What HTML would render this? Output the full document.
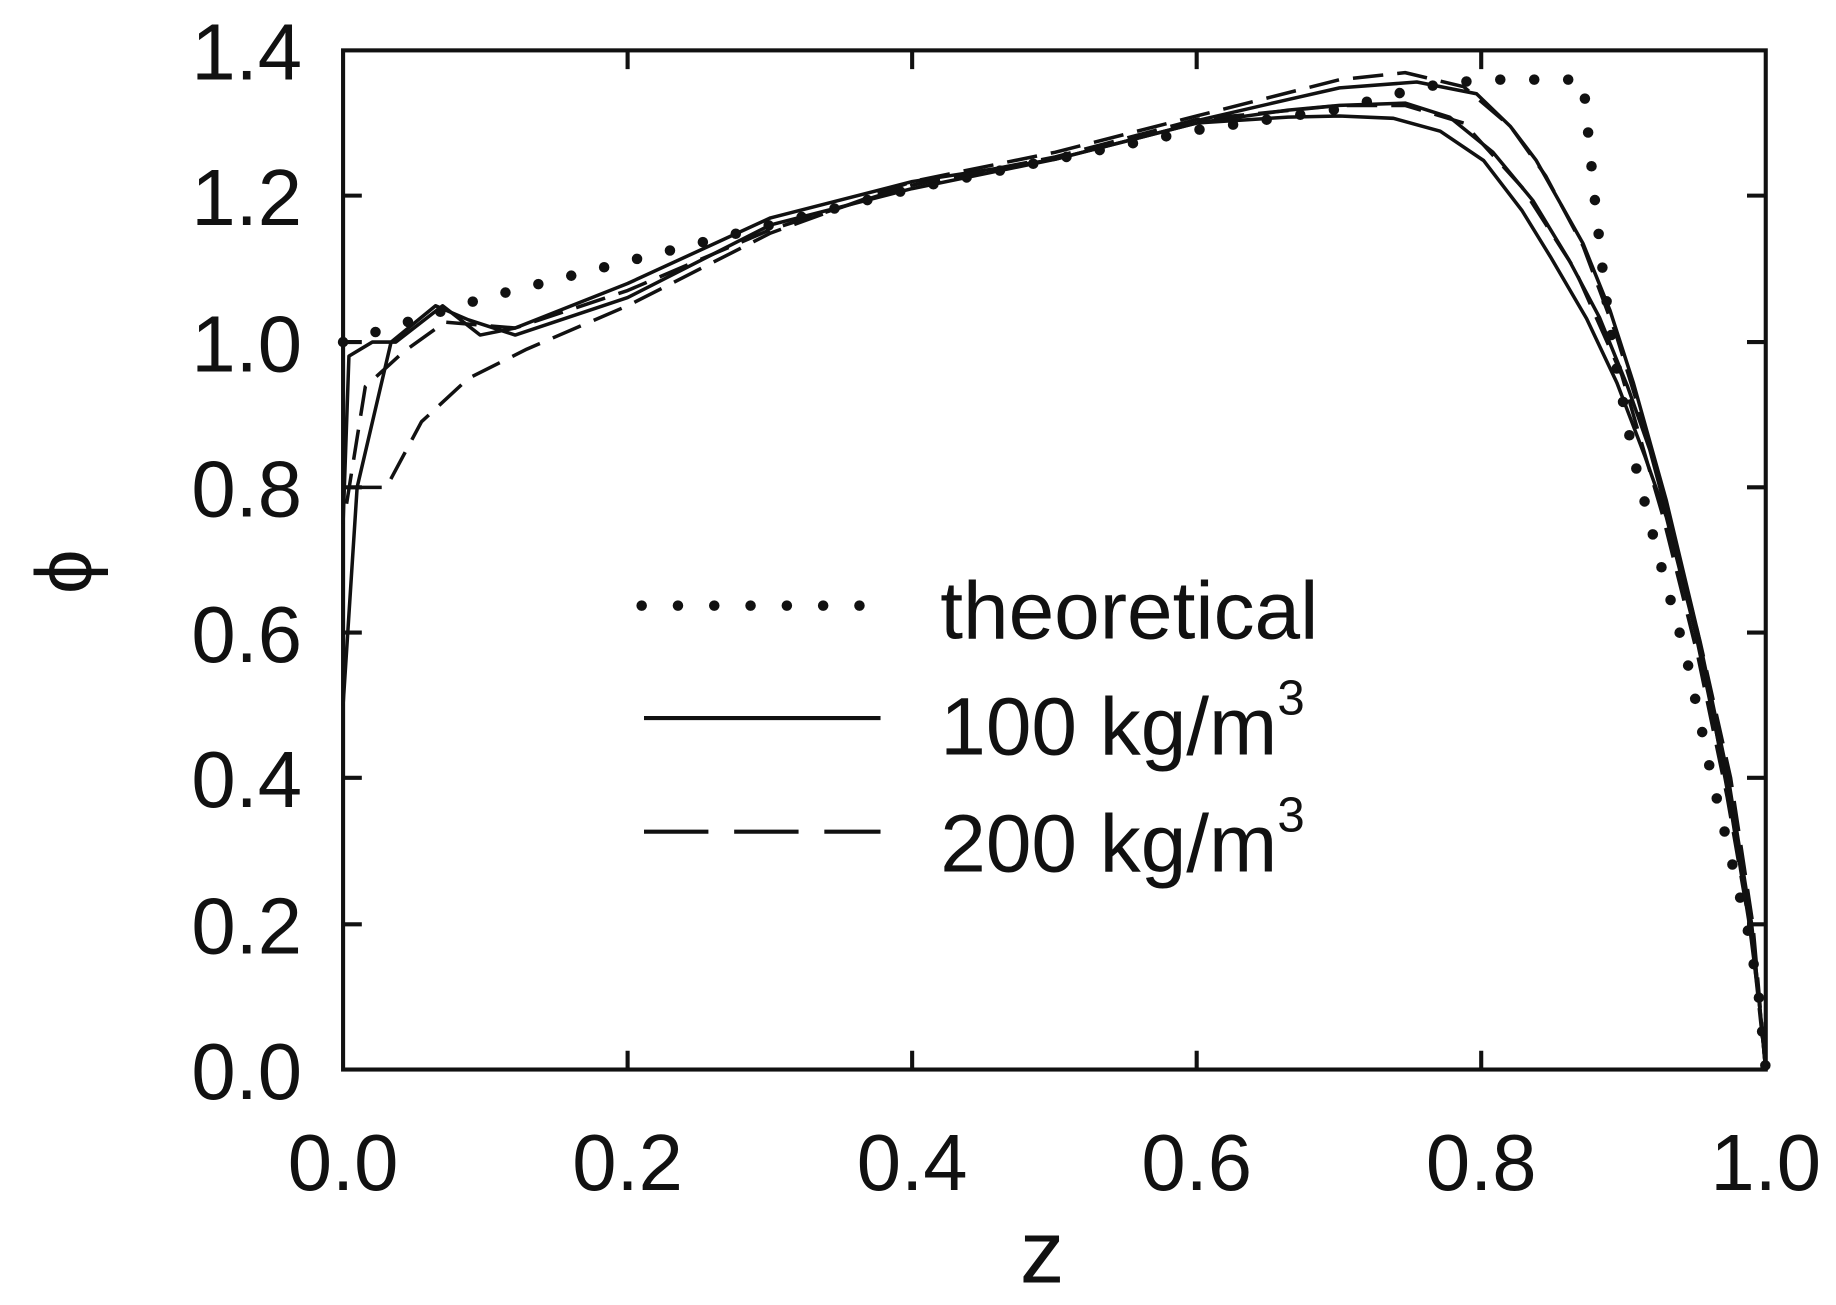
<!DOCTYPE html>
<html><head><style>html,body{margin:0;padding:0;background:#fff;}svg{display:block;}</style></head>
<body>
<svg width="1836" height="1305" viewBox="0 0 1568 1114" preserveAspectRatio="none" xmlns="http://www.w3.org/2000/svg">
<rect width="1568" height="1114" fill="#fff"/>
<g font-family="Liberation Sans, Arial, sans-serif" fill="#111">
<g font-size="68" text-anchor="end">
<text x="258" y="938">0.0</text><text x="258" y="814">0.2</text><text x="258" y="689">0.4</text>
<text x="258" y="565">0.6</text><text x="258" y="441">0.8</text><text x="258" y="317">1.0</text>
<text x="258" y="192">1.2</text><text x="258" y="68">1.4</text>
</g>
<g font-size="68" text-anchor="middle">
<text x="293" y="1016">0.0</text><text x="536" y="1016">0.2</text><text x="779" y="1016">0.4</text>
<text x="1022" y="1016">0.6</text><text x="1265" y="1016">0.8</text><text x="1508" y="1016">1.0</text>
<text x="890" y="1095" font-size="76">z</text>
</g>
<text x="0" y="0" font-size="68" text-anchor="middle" transform="translate(78,488) rotate(-90)">ϕ</text>
<g font-size="70">
<text x="803" y="545">theoretical</text>
<text x="803" y="644">100 kg/m<tspan font-size="42" dy="-34">3</tspan></text>
<text x="803" y="744">200 kg/m<tspan font-size="42" dy="-34">3</tspan></text>
</g>
</g>
<g stroke="#111" stroke-width="3.5" fill="none">
<rect x="293" y="43" width="1215" height="870"/>
<path d="M536 913v-16M779 913v-16M1022 913v-16M1265 913v-16M536 43v16M779 43v16M1022 43v16M1265 43v16
M293 789h16M293 664h16M293 540h16M293 416h16M293 292h16M293 167h16
M1508 789h-16M1508 664h-16M1508 540h-16M1508 416h-16M1508 292h-16M1508 167h-16"/>
</g>
<g fill="none" stroke="#111" stroke-linejoin="round">
<path stroke-width="9" stroke-linecap="round" stroke-dasharray="0 29" d="M293 292L354 273L415 254L536 223L658 192L779 161L901 136L1022 111L1144 93L1216 74L1265 68L1352 68L1356 110L1362 170L1370 242L1378 300L1395 390L1415 470L1440 560L1462 664L1480 740L1494 800L1502 850L1508 913"/>
<path stroke-width="3" d="M293 602L305 416L334 292L372 261L400 273L440 286L536 254L658 192L779 161L901 136L1022 105L1100 100L1144 99L1190 101L1230 112L1267 137L1300 180L1324 219L1355 272L1381 327L1405 390L1423 441L1448 540L1474 664L1494 789L1503 860L1508 913"/>
<path stroke-width="3" d="M293 447L298 304L318 292L338 292L378 261L410 286L440 280L536 242L658 186L779 155L901 136L1022 105L1100 94L1144 90L1200 88L1238 100L1275 130L1309 171L1340 222L1366 271L1390 330L1409 384L1440 500L1463 610L1480 700L1497 800L1508 913"/>
<path stroke-width="3" d="M1022 103L1100 85L1144 75L1210 70L1261 80L1290 108L1312 137L1352 208L1375 265L1395 327L1423 427L1450 540L1476 664L1496 789L1508 913"/>
<path stroke-width="3" stroke-dasharray="26 12" d="M300 416L330 416L360 360L400 323L450 298L536 261L658 199L779 155L901 130L1022 99L1144 68L1200 62L1250 74L1290 108L1320 150L1352 210L1380 285L1400 350L1425 440L1452 548L1478 664L1497 789L1508 913"/>
<path stroke-width="3" stroke-dasharray="26 12" d="M296 430L312 330L345 300L380 275L440 280L536 248L658 196L779 158L901 134L1022 102L1144 90L1200 90L1250 105L1300 160L1345 230L1385 320L1420 440L1450 560L1475 680L1496 800L1508 913"/>
<path stroke-width="9" stroke-linecap="round" stroke-dasharray="0 31" d="M548 517H735"/>
<path stroke-width="3.5" d="M550 613H752"/>
<path stroke-width="3.5" stroke-dasharray="55 22" d="M550 710H752"/>
</g>
</svg>
</body></html>
